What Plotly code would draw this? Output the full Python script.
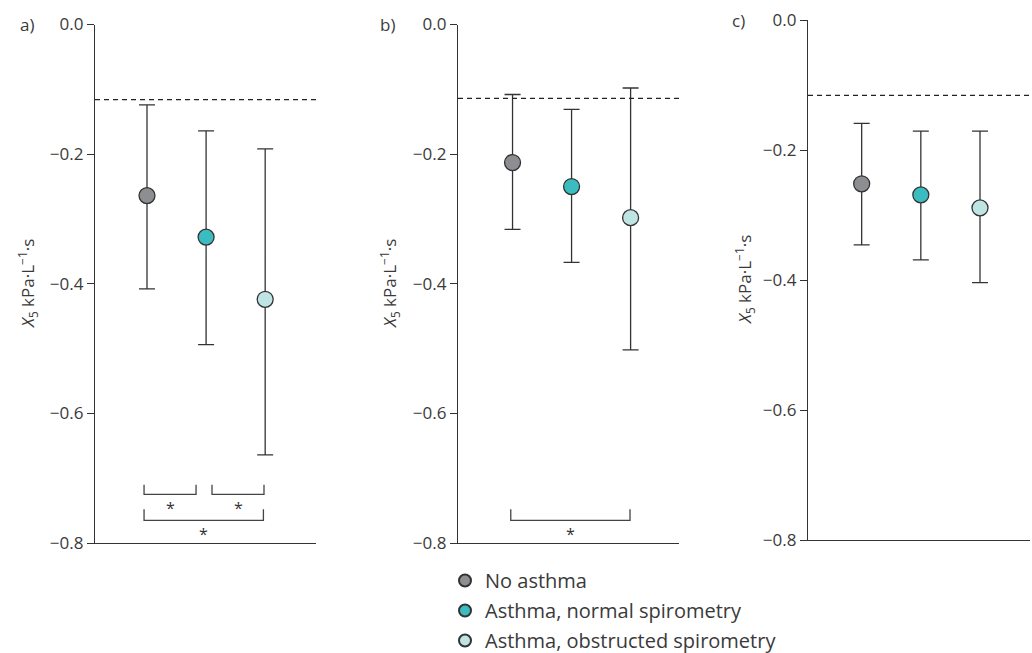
import plotly.graph_objects as go

groups = ["No asthma", "Asthma, normal spirometry", "Asthma, obstructed spirometry"]
fill_colors = ["#8d8e91", "#3bbcc0", "#bfe4e4"]
xpos = [1, 2, 3]
panel_labels = ["a)", "b)", "c)"]

means_a = [-0.264, -0.328, -0.424]
upper_a = [-0.124, -0.164, -0.192]
lower_a = [-0.408, -0.494, -0.664]

means_b = [-0.213, -0.250, -0.298]
upper_b = [-0.108, -0.131, -0.098]
lower_b = [-0.316, -0.367, -0.502]

means_c = [-0.252, -0.269, -0.289]
upper_c = [-0.159, -0.171, -0.171]
lower_c = [-0.346, -0.369, -0.404]

ref_values = [-0.116, -0.114, -0.116]

y_ticks = [0.0, -0.2, -0.4, -0.6, -0.8]

# significance brackets: [x_start, x_end, y_tip, y_bar]
brackets_a = [[0.95, 1.83, -0.710, -0.725], [2.10, 2.98, -0.710, -0.725], [0.95, 2.97, -0.748, -0.765]]
brackets_b = [[0.97, 2.99, -0.748, -0.765]]
brackets_c = []

W, H = 1032, 653
FONT = "Open Sans"
INK = "#333333"


def px(x):
    return x / W


def py(y):
    return 1 - y / H


means = [means_a, means_b, means_c]
uppers = [upper_a, upper_b, upper_c]
lowers = [lower_a, lower_b, lower_c]
brackets = [brackets_a, brackets_b, brackets_c]

x_domains = [[px(95), px(316)], [px(458), px(679)], [px(808), px(1030)]]
y_domains = [[py(543), py(24.5)], [py(543), py(24.5)], [py(540), py(20)]]
x_ranges = [[0.12, 3.86], [0.076, 3.82], [0.093, 3.845]]

fig = go.Figure()

for p in range(3):
    xa = "x" if p == 0 else f"x{p + 1}"
    ya = "y" if p == 0 else f"y{p + 1}"
    for g in range(3):
        m = means[p][g]
        fig.add_trace(go.Scatter(
            x=[xpos[g]], y=[m], xaxis=xa, yaxis=ya,
            mode="markers", name=groups[g], showlegend=(p == 0), legendgroup=f"g{g}",
            marker=dict(size=16, color=fill_colors[g], line=dict(color=INK, width=1.3)),
            error_y=dict(type="data", symmetric=False,
                         array=[uppers[p][g] - m], arrayminus=[m - lowers[p][g]],
                         color=INK, thickness=1.3, width=8),
        ))
    for b in brackets[p]:
        x0, x1, ytip, ybar = b
        fig.add_trace(go.Scatter(
            x=[x0, x0, x1, x1], y=[ytip, ybar, ybar, ytip], xaxis=xa, yaxis=ya,
            mode="lines", line=dict(color="#444444", width=1.3), showlegend=False, hoverinfo="skip",
        ))
        fig.add_annotation(x=(x0 + x1) / 2, y=ybar, xref=xa, yref=ya, text="*",
                           showarrow=False, yanchor="top", yshift=-1,
                           font=dict(family=FONT, size=16, color=INK))
    fig.add_shape(type="line", xref=f"{xa} domain", yref=ya, x0=0, x1=1,
                  y0=ref_values[p], y1=ref_values[p],
                  line=dict(color="#222222", width=1.2, dash="5px,4px"))

    axis_common = dict(showline=True, linecolor=INK, linewidth=1.3, mirror=False, zeroline=False,
                       showgrid=False)
    fig.update_layout(**{
        ("xaxis" if p == 0 else f"xaxis{p + 1}"): dict(
            domain=x_domains[p], range=x_ranges[p], anchor=ya,
            showticklabels=False, ticks="", **axis_common),
        ("yaxis" if p == 0 else f"yaxis{p + 1}"): dict(
            domain=y_domains[p], range=[-0.8, 0.0], anchor=xa,
            tickvals=y_ticks, tickformat=".1f", ticks="outside", ticklen=7,
            tickcolor=INK, tickwidth=1.3, ticklabeloverflow="allow",
            tickfont=dict(family=FONT, size=17, color="#3a3a3a"), **axis_common),
    })

# panel letters
letter_pos = [(18, 25), (378, 25), (730, 20)]
for lab, (lx, ly) in zip(panel_labels, letter_pos):
    fig.add_annotation(x=px(lx), y=py(ly), xref="paper", yref="paper", text=lab,
                       showarrow=False, xanchor="left", yanchor="middle",
                       font=dict(family=FONT, size=17, color="#3a3a3a"))

# y-axis titles
title_pos = [(28, 284), (390, 284), (745, 280)]
for tx, ty in title_pos:
    fig.add_annotation(x=px(tx), y=py(ty), xref="paper", yref="paper",
                       text="<i>X</i><sub>5</sub> kPa·L<sup>−1</sup>·s",
                       textangle=-90, showarrow=False, xanchor="center", yanchor="middle",
                       font=dict(family=FONT, size=17, color="#3a3a3a"))

fig.update_layout(
    width=W, height=H,
    margin=dict(l=0, r=0, t=0, b=0, autoexpand=False),
    paper_bgcolor="white", plot_bgcolor="white",
    showlegend=True,
    legend=dict(x=px(445), y=py(561), xanchor="left", yanchor="top",
                font=dict(family=FONT, size=20, color="#3a3a3a"),
                bgcolor="rgba(0,0,0,0)", itemsizing="constant", tracegroupgap=1),
)

fig.write_html("out.html", config={"displayModeBar": False},
               post_script="document.body.style.margin='0px';document.body.style.overflow='hidden';")
